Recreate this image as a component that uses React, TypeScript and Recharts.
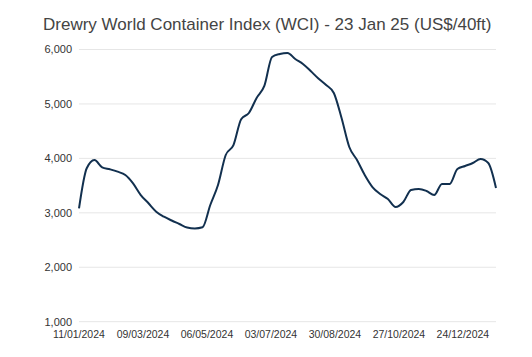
import { LineChart, Line, CartesianGrid, XAxis, YAxis } from "recharts";

const weekDates = [
  "2024-01-11", "2024-01-18", "2024-01-25", "2024-02-01", "2024-02-08",
  "2024-02-15", "2024-02-22", "2024-02-29", "2024-03-07", "2024-03-14",
  "2024-03-21", "2024-03-28", "2024-04-04", "2024-04-11", "2024-04-18",
  "2024-04-25", "2024-05-02", "2024-05-09", "2024-05-16", "2024-05-23",
  "2024-05-30", "2024-06-06", "2024-06-13", "2024-06-20", "2024-06-27",
  "2024-07-04", "2024-07-11", "2024-07-18", "2024-07-25", "2024-08-01",
  "2024-08-08", "2024-08-15", "2024-08-22", "2024-08-29", "2024-09-05",
  "2024-09-12", "2024-09-19", "2024-09-26", "2024-10-03", "2024-10-10",
  "2024-10-17", "2024-10-24", "2024-10-31", "2024-11-07", "2024-11-14",
  "2024-11-21", "2024-11-28", "2024-12-05", "2024-12-12", "2024-12-19",
  "2024-12-26", "2025-01-02", "2025-01-09", "2025-01-16", "2025-01-23",
];

// US$ per 40ft container
const wciValues = [
  3080, 3818, 3970, 3836, 3800,
  3756, 3695, 3542, 3327, 3175,
  3021, 2929, 2859, 2795, 2730,
  2712, 2734, 3144, 3511, 4062,
  4244, 4720, 4834, 5110, 5330,
  5862, 5917, 5936, 5825, 5734,
  5605, 5467, 5348, 5201, 4741,
  4209, 3970, 3695, 3474, 3346,
  3254, 3107, 3199, 3420, 3438,
  3401, 3328, 3530, 3530, 3805,
  3860, 3915, 3989, 3915, 3456,
];

const xTickDates = [
  "2024-01-11", "2024-03-09", "2024-05-06", "2024-07-03",
  "2024-08-30", "2024-10-27", "2024-12-24",
];

const yTicks = [1000, 2000, 3000, 4000, 5000, 6000];

const toTime = (d: string) => Date.parse(d + "T00:00:00Z");

const data = weekDates.map((d, i) => ({ t: toTime(d), value: wciValues[i] }));

const fmtDate = (t: number) => {
  const d = new Date(t);
  const dd = String(d.getUTCDate()).padStart(2, "0");
  const mm = String(d.getUTCMonth() + 1).padStart(2, "0");
  return `${dd}/${mm}/${d.getUTCFullYear()}`;
};

const font = '"Liberation Sans", Arial, sans-serif';

export default function App() {
  return (
    <div
      style={{
        position: "absolute",
        left: 0,
        top: 0,
        width: 532,
        height: 357,
        background: "#fff",
        fontFamily: font,
      }}
    >
      <div
        style={{
          position: "absolute",
          left: 43,
          top: 15,
          fontSize: 17,
          color: "#444",
          whiteSpace: "nowrap",
        }}
      >
        Drewry World Container Index (WCI) - 23 Jan 25 (US$/40ft)
      </div>

      <LineChart
        width={532}
        height={357}
        data={data}
        margin={{ top: 49.5, right: 36, bottom: 5.3, left: 0 }}
      >
        <CartesianGrid vertical={false} stroke="#e6e6e6" />
        <XAxis
          dataKey="t"
          type="number"
          scale="time"
          domain={["dataMin", "dataMax"]}
          ticks={xTickDates.map(toTime)}
          tickFormatter={fmtDate}
          interval={0}
          height={30}
          axisLine={false}
          tickLine={false}
          tickSize={0}
          tickMargin={9}
          tick={{ fontSize: 10.5, fill: "#333", fontFamily: font }}
        />
        <YAxis
          domain={[1000, 6000]}
          ticks={yTicks}
          tickFormatter={(v: number) => v.toLocaleString("en-US")}
          width={79}
          axisLine={false}
          tickLine={false}
          tickSize={0}
          tickMargin={7}
          tick={{ fontSize: 11, fill: "#333", fontFamily: font }}
        />
        <Line
          type="monotone"
          dataKey="value"
          stroke="#12304f"
          strokeWidth={2}
          dot={false}
          isAnimationActive={false}
        />
      </LineChart>
    </div>
  );
}
